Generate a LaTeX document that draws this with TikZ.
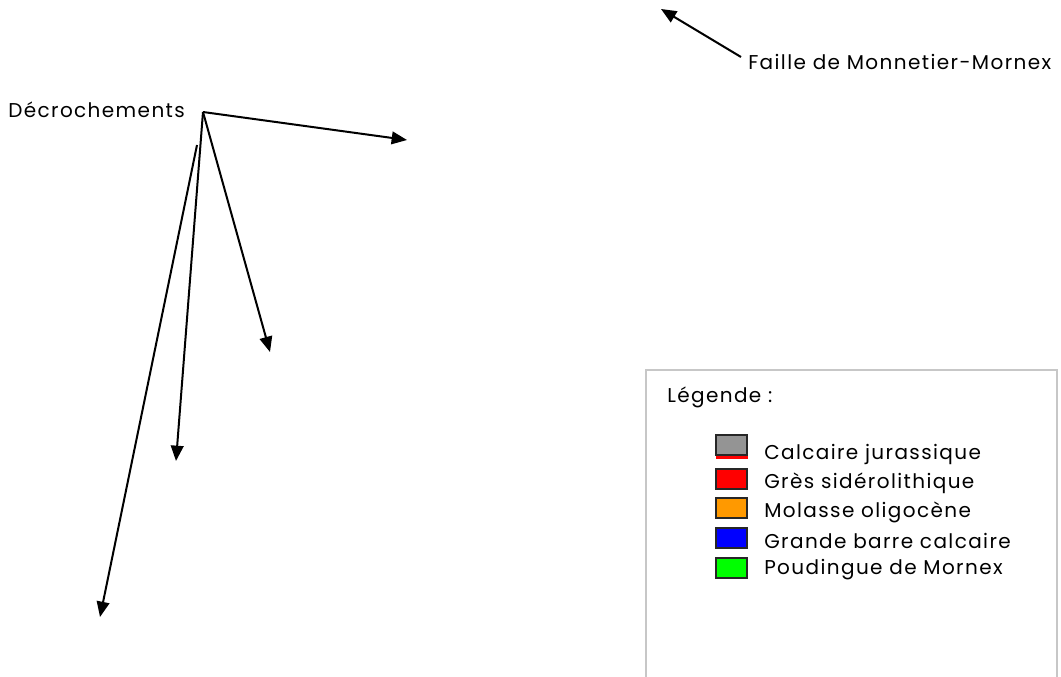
\documentclass[tikz,border=0pt]{standalone}
\usepackage{fontspec}
\setmainfont[LetterSpace=7]{Poppins}
\usetikzlibrary{arrows.meta}
\tikzset{
  arr/.style={line width=1.5pt,-{Triangle[length=11.5pt,width=9.5pt]}},
  lbl/.style={font=\fontsize{15}{17}\selectfont,inner sep=0pt,anchor=west},
  swatch/.style={draw=black!85,line width=1.5pt,minimum width=23pt,minimum height=14.5pt,inner sep=0pt,anchor=west},
}
\begin{document}
\begin{tikzpicture}[x=0.75pt,y=-0.75pt]
\useasboundingbox (0,0) rectangle (1061,677);
% labels
\node[lbl] (dec) at (8,110) {Décrochements};
\node[lbl] (faille) at (748,62) {Faille de Monnetier-Mornex};
% fault arrows
\coordinate (o) at (203,112);
\coordinate (e1) at (407,140);
\coordinate (e2) at (270,352);
\coordinate (e3) at (176,461);
\coordinate (s4) at (197,145);
\coordinate (e4) at (100,617);
\draw[arr] (o) -- (e1);
\draw[arr] (o) -- (e2);
\draw[arr] (o) -- (e3);
\draw[arr] (s4) -- (e4);
\coordinate (fs) at (741,57);
\coordinate (fe) at (661,9);
\draw[arr] (fs) -- (fe);
% legend frame
\coordinate (lb1) at (646,677);
\coordinate (lt1) at (646,370);
\coordinate (lt2) at (1057,370);
\coordinate (lb2) at (1057,677);
\draw[black!22,line width=1.5pt] (lb1) -- (lt1) -- (lt2) -- (lb2);
\node[lbl] (leg) at (667,397) {Légende :};
% swatches
\fill[red] (716,446) rectangle (748,459);
\node[swatch,fill=black!42] (s1) at (715,445) {};
\node[swatch,fill=red] (s2) at (715,479) {};
\node[swatch,fill={rgb,255:red,255;green,153;blue,0}] (s3) at (715,508) {};
\node[swatch,fill={rgb,255:red,0;green,0;blue,255}] (s4b) at (715,538) {};
\node[swatch,fill={rgb,255:red,0;green,255;blue,0}] (s5) at (715,568) {};
\node[lbl] (t1) at (764,454) {Calcaire jurassique};
\node[lbl] (t2) at (764,483) {Grès sidérolithique};
\node[lbl] (t3) at (764,512) {Molasse oligocène};
\node[lbl] (t4) at (764,541) {Grande barre calcaire};
\node[lbl] (t5) at (764,570) {Poudingue de Mornex};
\end{tikzpicture}
\end{document}
